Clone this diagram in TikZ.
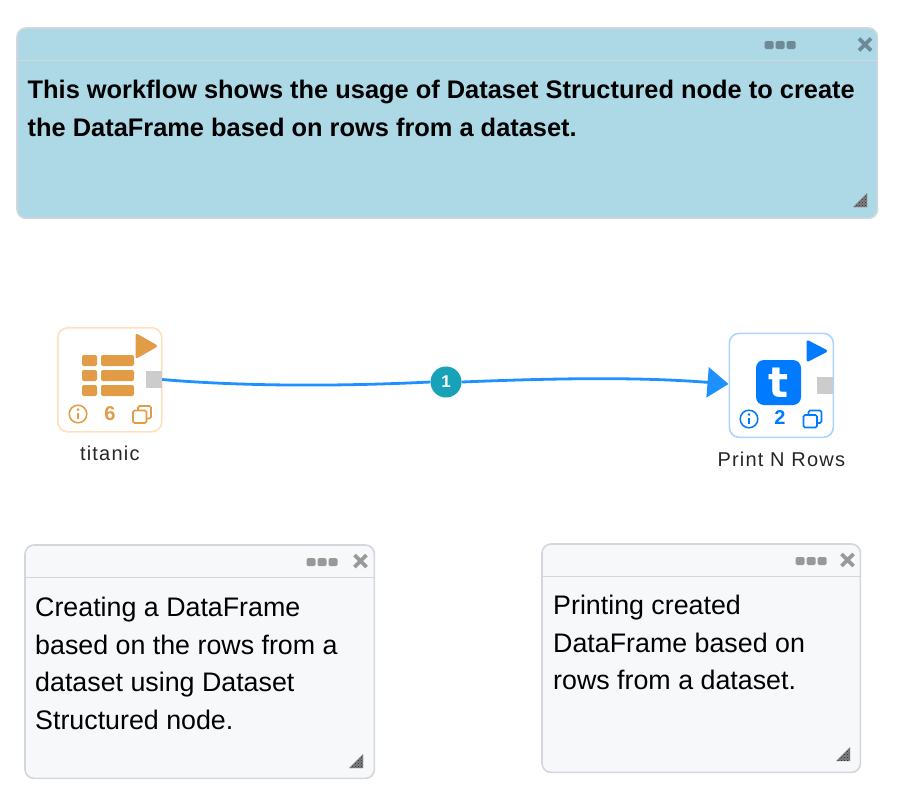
\documentclass[tikz,border=0pt]{standalone}
\usepackage{fontspec}
\setmainfont{Liberation Sans}
\newfontfamily\labelfont[LetterSpace=6]{Liberation Sans}
\newfontfamily\glyphfont{DejaVu Sans}
\usetikzlibrary{arrows.meta, positioning, calc, patterns}
\definecolor{noteblue}{HTML}{ADD8E6}
\definecolor{notegrey}{HTML}{F7F8FA}
\definecolor{noteline}{HTML}{D3D6DC}
\definecolor{topctrl}{HTML}{6D8A96}
\definecolor{greyctrl}{HTML}{999999}
\definecolor{sourcecol}{HTML}{E29C48}
\definecolor{sourceedge}{HTML}{FFE0BC}
\definecolor{sinkcol}{HTML}{007BFF}
\definecolor{sinkedge}{HTML}{ADD4FF}
\definecolor{wirecol}{HTML}{1E90FF}
\definecolor{badgecol}{HTML}{17A2B8}
\definecolor{portcol}{HTML}{CCCCCC}

\begin{document}
\begin{tikzpicture}[
    x=1pt, y=-1pt,
    notebox/.style={rectangle, draw=noteline, line width=1.6pt, rounded corners=9pt, anchor=north west, inner sep=0pt},
    notetext/.style={anchor=north west, align=left, inner sep=0pt, font=\fontsize{26.8}{37.6}\selectfont},
    headrule/.style={draw=noteline, line width=1.4pt},
    flownode/.style={rectangle, fill=white, line width=1.6pt, rounded corners=10pt, minimum width=104pt, minimum height=104pt, anchor=north west, inner sep=0pt},
    port/.style={rectangle, fill=portcol, minimum width=16pt, minimum height=17pt, inner sep=0pt},
    nodelabel/.style={inner sep=0pt, text=black!85, font=\labelfont\fontsize{20}{23}\selectfont},
    countlabel/.style={inner sep=0pt, font=\bfseries\fontsize{20}{23}\selectfont},
    wire/.style={draw=wirecol, line width=2.8pt},
    pics/ctrls/.style={code={
        \foreach \i in {-11,0,11} {\fill[#1, rounded corners=1.5pt] (\i-4.5,-4) rectangle (\i+4.5,4);}
    }},
    pics/closex/.style={code={
        \draw[#1, line width=3.8pt] (-6,-6) -- (6,6) (-6,6) -- (6,-6);
    }},
    pics/resizer/.style={code={
        \fill[black!50] (7,-7) -- (7,7) -- (-7,7) -- cycle;
        \fill[pattern=crosshatch dots, pattern color=black!85] (7,-7) -- (7,7) -- (-7,7) -- cycle;
    }},
    pics/infoicon/.style={code={
        \draw[#1, line width=1.5pt] (0,0) circle (8.8);
        \fill[#1] (0,-4.4) circle (1.4);
        \draw[#1, line width=2pt] (0,-1) -- (0,5);
    }},
    pics/copyicon/.style={code={
        \draw[#1, line width=1.7pt, rounded corners=1.5pt] (-4,-4) -- (-4,-8.5) -- (9,-8.5) -- (9,4) -- (4.5,4);
        \draw[#1, line width=1.7pt, rounded corners=1.5pt] (-9,-4) rectangle (4.5,8.5);
    }}
]

% Notes
\node[notebox, fill=noteblue, minimum width=860.4pt, minimum height=190.4pt] (topnote) at (16.2,27.2) {};
\node[notebox, fill=notegrey, minimum width=349.4pt, minimum height=233.4pt] (leftnote) at (24.2,544.2) {};
\node[notebox, fill=notegrey, minimum width=318.4pt, minimum height=228.4pt] (rightnote) at (541.2,543.2) {};
\draw[headrule] ([yshift=-33pt]topnote.north west) -- ([yshift=-33pt]topnote.north east);
\draw[headrule] ([yshift=-33pt]leftnote.north west) -- ([yshift=-33pt]leftnote.north east);
\draw[headrule] ([yshift=-33pt]rightnote.north west) -- ([yshift=-33pt]rightnote.north east);

\node[notetext, font=\bfseries\fontsize{25.4}{38}\selectfont] (toptext) at (27.5,80) {This workflow shows the usage of Dataset Structured node to create\\the DataFrame based on rows from a dataset.};
\node[notetext] (lefttext) at (35,597) {Creating a DataFrame\\based on the rows from a\\dataset using Dataset\\Structured node.};
\node[notetext] (righttext) at (553,595) {Printing created\\DataFrame based on\\rows from a dataset.};

% Note controls
\pic at (780,45) {ctrls=topctrl};
\pic at (865,44.5) {closex=topctrl};
\pic at (860,200) {resizer};
\pic at (322,562) {ctrls=greyctrl};
\pic at (360.5,561) {closex=greyctrl};
\pic at (356,761) {resizer};
\pic at (811,561) {ctrls=greyctrl};
\pic at (847.5,560) {closex=greyctrl};
\pic at (843,754) {resizer};

% Flow nodes
\node[flownode, draw=sourceedge] (titanic) at (57,327) {};
\node[flownode, draw=sinkedge] (printrows) at (728.5,332.5) {};
\node[port] (titanicport) at (154,379.5) {};
\node[port] (printport) at (825,385.5) {};
\node[nodelabel, below=13.5pt of titanic.south] (titaniclabel) {titanic};
\node[nodelabel, below=13.5pt of printrows.south] (printlabel) {Print N Rows};

% titanic icons
\foreach \y in {355,370,385} {
    \fill[sourcecol, rounded corners=2pt] (82,\y) rectangle (97,\y+11);
    \fill[sourcecol, rounded corners=2pt] (101,\y) rectangle (134,\y+11);
}
\fill[sourcecol, draw=sourcecol, line width=3pt, line join=round] (137,335.5) -- (155.5,346) -- (137,356.5) -- cycle;
\pic at (78,414) {infoicon=sourcecol};
\node[countlabel, text=sourcecol] (titaniccount) at (110,414) {6};
\pic at (142,414.5) {copyicon=sourcecol};

% Print N Rows icons
\node[rectangle, fill=sinkcol, rounded corners=8pt, minimum width=45pt, minimum height=45pt, inner sep=0pt, text=white, font=\glyphfont\bfseries\fontsize{42}{42}\selectfont] (tbadge) at (778.5,382.5) {t};
\fill[sinkcol, draw=sinkcol, line width=3pt, line join=round] (808,342) -- (825.5,351) -- (808,360) -- cycle;
\pic at (749,419) {infoicon=sinkcol};
\node[countlabel, text=sinkcol] (printcount) at (780,418) {2};
\pic at (812.5,419) {copyicon=sinkcol};

% Wire
\node[circle, fill=badgecol, minimum size=31pt, inner sep=0pt, text=white, font=\bfseries\fontsize{17}{20}\selectfont] (wirebadge) at (446,382) {1};
\coordinate (printin) at (printrows.west |- 0,384);
\draw[wire] (titanicport.east) .. controls (250,387) and (350,386) .. (wirebadge.west);
\draw[wire, -{Triangle[length=21pt, width=30pt]}] (wirebadge.east) .. controls (560,378) and (640,377) .. (printin);

\useasboundingbox (0,0) rectangle (905,798);
\end{tikzpicture}
\end{document}
